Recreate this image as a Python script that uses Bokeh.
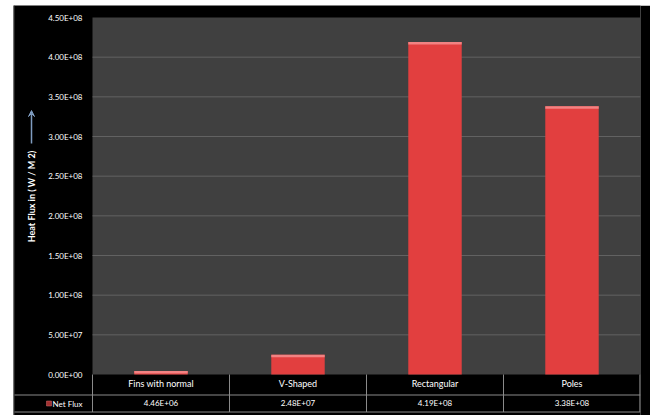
from math import pi
from bokeh.plotting import figure
from bokeh.models import (Range1d, FixedTicker, Arrow, VeeHead, ColumnDataSource,
                          LinearAxis)
from bokeh.core.properties import value
from bokeh.embed import file_html
from bokeh.resources import INLINE

# ---------------- data ----------------
categories = ["Fins with normal", "V-Shaped", "Rectangular", "Poles"]
net_flux = [4.46e6, 2.48e7, 4.19e8, 3.38e8]
net_flux_labels = ["4.46E+06", "2.48E+07", "4.19E+08", "3.38E+08"]
y_ticks = [0, 50000000, 100000000, 150000000, 200000000,
           250000000, 300000000, 350000000, 400000000, 450000000]
y_tick_labels = ["0.00E+00", "5.00E+07", "1.00E+08", "1.50E+08", "2.00E+08",
                 "2.50E+08", "3.00E+08", "3.50E+08", "4.00E+08", "4.50E+08"]
series_name = "Net Flux"
y_title = "Heat Flux in ( W / M 2)"

# ---------------- layout helpers ----------------
N = len(categories)
Y_MAX = y_ticks[-1]
PX = Y_MAX / 357.0            # data units per vertical pixel
XPX = 1 / 137.0               # data units per horizontal pixel
x_left = -79 * XPX            # left column of the chart (labels)
row_div = -20.5 * PX
row2_mid = int(round(-29 * PX))
table_bot = -37.5 * PX
y_start = -41 * PX
y_end = Y_MAX + 12 * PX
GRID = "#626262"
TLINE = "#8a8a8a"

p = figure(width=637, height=410, output_backend="svg", toolbar_location=None,
           x_range=Range1d(x_left, N), y_range=Range1d(y_start, y_end),
           min_border_left=0, min_border_right=10, min_border_top=0,
           min_border_bottom=0, margin=(5, 6, 0, 13))
p.background_fill_color = "black"
p.border_fill_color = "black"
p.outline_line_color = None
p.grid.visible = False

xs = [i + 0.5 for i in range(N)]

# plot area
p.quad(left=[0], right=[N], bottom=[0], top=[Y_MAX], fill_color="#404040",
       line_color=None)
# gridlines
gy = y_ticks[1:-1]
p.segment(x0=[0] * len(gy), x1=[N] * len(gy), y0=gy, y1=gy,
          line_color=GRID, line_width=1)
# chart left border
p.segment(x0=[x_left + 0.6 * XPX], x1=[x_left + 0.6 * XPX], y0=[y_start], y1=[y_end],
          line_color="#3a3a3a", line_width=1)

# ---- y axis (real axis, placed at the plot-area edge) ----
yax = p.yaxis[0]
yax.fixed_location = 0
yax.ticker = FixedTicker(ticks=y_ticks + [row2_mid])
yo = {t: s for t, s in zip(y_ticks, y_tick_labels)}
yo[row2_mid] = series_name
yax.major_label_overrides = yo
yax.axis_line_color = None
yax.major_tick_line_color = None
yax.minor_tick_line_color = None
yax.major_label_standoff = 4
yax.major_label_text_color = "white"
yax.major_label_text_font = "Lato"
yax.major_label_text_font_size = "8px"

# ---- x axes used as the data-table rows ----
xax = p.xaxis[0]
xax.fixed_location = 7 * PX
xax.ticker = FixedTicker(ticks=xs)
xax.major_label_overrides = {x: c for x, c in zip(xs, categories)}
vax = LinearAxis(fixed_location=row_div + 6 * PX, ticker=FixedTicker(ticks=xs),
                 major_label_overrides={x: v for x, v in zip(xs, net_flux_labels)})
p.add_layout(vax, "below")
for ax, so, fs in ((xax, 4, "9px"), (vax, 3, "8px")):
    ax.axis_line_color = None
    ax.major_tick_line_color = None
    ax.minor_tick_line_color = None
    ax.major_label_standoff = so
    ax.major_label_text_color = "white"
    ax.major_label_text_font = "Lato"
    ax.major_label_text_font_size = fs

# bars
src = ColumnDataSource(dict(x=xs, top=net_flux,
                            hl=[t - 2.5 * PX for t in net_flux]))
p.vbar(x="x", top="top", bottom=0, width=0.39, source=src,
       fill_color="#e23f3f", line_color=None)
p.vbar(x="x", top="top", bottom="hl", width=0.39, source=src,
       fill_color="#f28282", line_color=None)

# table lines
bx = [float(b) for b in range(N + 1)]
bx[-1] = N - 0.6 * XPX
p.segment(x0=bx, x1=bx, y0=[0] * len(bx), y1=[table_bot] * len(bx),
          line_color=TLINE, line_width=1)
p.segment(x0=[x_left + XPX, x_left + XPX], x1=[N, N], y0=[row_div, table_bot],
          y1=[row_div, table_bot], line_color=TLINE, line_width=1)

# legend key of the series
p.quad(left=[-46 * XPX], right=[-41 * XPX], bottom=[row2_mid - 2.5 * PX],
       top=[row2_mid + 2.5 * PX], fill_color="#a33030", line_color="#d06a6a",
       line_width=0.5)

# y axis title with its arrow
title_x = -61 * XPX
p.text(x=[title_x], y=[(374 - 196) * PX], text=[y_title], angle=pi / 2,
       text_align="center", text_baseline="middle", text_color="white",
       text_font=value("Lato"), text_font_size="9px", text_font_style="bold")
p.add_layout(Arrow(x_start=title_x, y_start=(374 - 143) * PX, x_end=title_x,
                   y_end=(374 - 110) * PX, line_color="#7f9cc0", line_width=1.5,
                   end=VeeHead(size=6, line_color="#7f9cc0", fill_color="#7f9cc0")))

open("out.html", "w").write(file_html(p, INLINE))
